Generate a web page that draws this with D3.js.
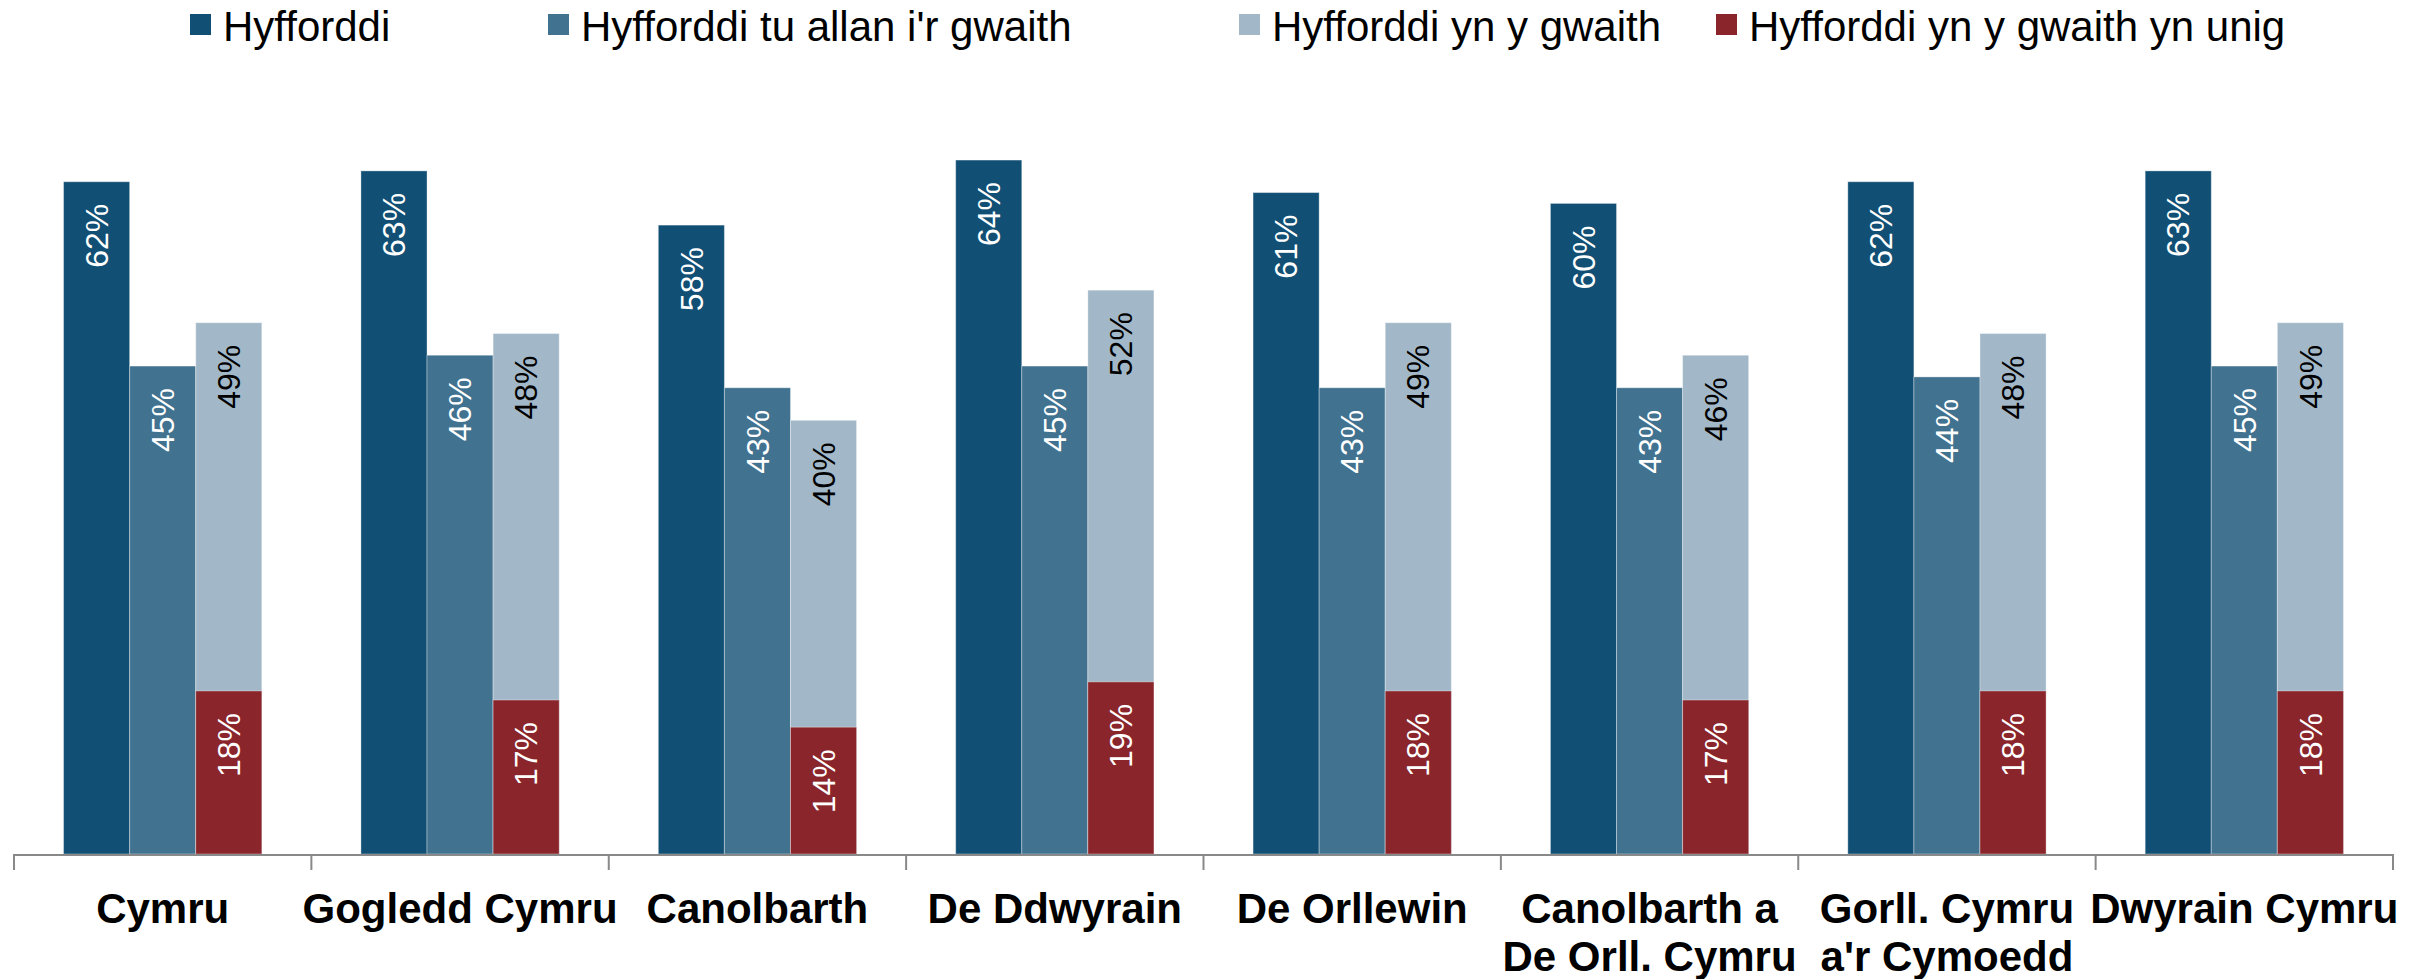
<!DOCTYPE html>
<html lang="cy">
<head>
  <meta charset="UTF-8">
  <script src="https://cdn.jsdelivr.net/npm/d3@7"></script>
  <title>Hyfforddi</title>
  <style>
    body { margin: 0; background: #fff; }
    text { font-family: "Liberation Sans", Arial, sans-serif; }
  </style>
</head>
<body>
  <svg width="2422" height="979"></svg>
  <script>
    // data
    var categories = ["Cymru", "Gogledd Cymru", "Canolbarth", "De Ddwyrain", "De Orllewin",
      "Canolbarth a\nDe Orll. Cymru", "Gorll. Cymru\na'r Cymoedd", "Dwyrain Cymru"];
    var seriesNames = ["Hyfforddi", "Hyfforddi tu allan i'r gwaith", "Hyfforddi yn y gwaith", "Hyfforddi yn y gwaith yn unig"];
    var hyfforddi = [62, 63, 58, 64, 61, 60, 62, 63];
    var tuAllan = [45, 46, 43, 45, 43, 43, 44, 45];
    var ynYGwaith = [49, 48, 40, 52, 49, 46, 48, 49];
    var ynUnig = [18, 17, 14, 19, 18, 17, 18, 18];

    var colors = ["#114f75", "#417290", "#a2b8c8", "#8a252b"];
    var labelColors = ["#fff", "#fff", "#000", "#fff"];

    var svg = d3.select("svg");
    var baseY = 854;

    var x0 = d3.scaleBand().domain(categories).range([14, 2393]).paddingInner(0).paddingOuter(0);
    var x1 = d3.scaleBand().domain([0, 1, 2]).range([0, x0.bandwidth()]).paddingInner(0).paddingOuter(0.75);
    var y = d3.scaleLinear().domain([0, 70]).range([baseY, 95]);
    // "yn unig" sits on the secondary axis (overlaps the third bar)
    var y2 = d3.scaleLinear().domain([0, 70]).range([baseY, 220]);

    var rows = categories.map(function (c, i) {
      return { cat: c, vals: [
        { s: 0, slot: 0, v: hyfforddi[i], sc: y },
        { s: 1, slot: 1, v: tuAllan[i], sc: y },
        { s: 2, slot: 2, v: ynYGwaith[i], sc: y },
        { s: 3, slot: 2, v: ynUnig[i], sc: y2 }
      ] };
    });

    var groups = svg.selectAll(".grp").data(rows).enter().append("g")
      .attr("class", "grp")
      .attr("transform", function (d) { return "translate(" + x0(d.cat) + ",0)"; });

    groups.selectAll("rect").data(function (d) { return d.vals; }).enter().append("rect")
      .attr("x", function (d) { return x1(d.slot); })
      .attr("width", x1.bandwidth())
      .attr("y", function (d) { return d.sc(d.v); })
      .attr("height", function (d) { return baseY - d.sc(d.v); })
      .attr("fill", function (d) { return colors[d.s]; })
      .attr("stroke", "rgba(255,255,255,0.35)")
      .attr("stroke-width", 1);

    groups.selectAll(".lbl").data(function (d) { return d.vals; }).enter().append("text")
      .attr("class", "lbl")
      .attr("transform", function (d) {
        return "translate(" + (x1(d.slot) + x1.bandwidth() / 2) + "," + (d.sc(d.v) + 22) + ") rotate(-90)";
      })
      .attr("text-anchor", "end")
      .attr("dy", "0.35em")
      .attr("font-size", 32)
      .attr("fill", function (d) { return labelColors[d.s]; })
      .text(function (d) { return d.v + "%"; });

    // x axis
    var axis = svg.append("g");
    axis.append("line")
      .attr("x1", x0.range()[0]).attr("x2", x0.range()[1])
      .attr("y1", baseY + 1).attr("y2", baseY + 1)
      .attr("stroke", "#898989").attr("stroke-width", 2);
    var edges = categories.map(function (c) { return x0(c); }).concat([x0.range()[1]]);
    axis.selectAll(".tk").data(edges).enter().append("line")
      .attr("x1", function (d) { return d; }).attr("x2", function (d) { return d; })
      .attr("y1", baseY).attr("y2", baseY + 16)
      .attr("stroke", "#898989").attr("stroke-width", 2);

    var catLabels = axis.selectAll(".cat").data(categories).enter().append("text")
      .attr("x", function (d) { return x0(d) + x0.bandwidth() / 2; })
      .attr("y", 923)
      .attr("text-anchor", "middle")
      .attr("font-size", 42)
      .attr("font-weight", "bold")
      .attr("fill", "#000");
    catLabels.selectAll("tspan").data(function (d) { return d.split("\n"); }).enter().append("tspan")
      .attr("x", function () { return d3.select(this.parentNode).attr("x"); })
      .attr("dy", function (d, i) { return i ? 48 : 0; })
      .text(function (d) { return d; });

    // legend
    var legendX = [190, 548, 1239, 1716];
    var lg = svg.selectAll(".leg").data(seriesNames).enter().append("g")
      .attr("transform", function (d, i) { return "translate(" + legendX[i] + ",14)"; });
    lg.append("rect").attr("width", 21).attr("height", 21)
      .attr("fill", function (d, i) { return colors[i]; });
    lg.append("text").attr("x", 33).attr("y", 27)
      .attr("font-size", 42).attr("fill", "#000")
      .text(function (d) { return d; });
  </script>
</body>
</html>
